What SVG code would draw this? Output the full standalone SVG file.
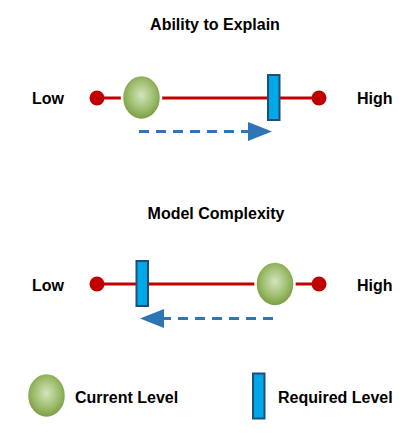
<svg xmlns="http://www.w3.org/2000/svg" width="411" height="434" viewBox="0 0 411 434">
  <defs>
    <radialGradient id="green" cx="50%" cy="45%" r="55%">
      <stop offset="0" stop-color="#d3e4bf"/>
      <stop offset="0.6" stop-color="#9dbd6c"/>
      <stop offset="1" stop-color="#76993f"/>
    </radialGradient>
    <marker id="arrow" viewBox="0 0 24 19" refX="0" refY="9.5" markerWidth="24" markerHeight="19" markerUnits="userSpaceOnUse" orient="auto">
      <path d="M0,0 L24,9.5 L0,19 Z" fill="#2e75b6"/>
    </marker>
    <style>
      .t { font-family: "Liberation Sans", Arial, sans-serif; font-weight: bold; font-size: 16px; fill: #000; }
      .axis { stroke: #c00000; stroke-width: 3; fill: none; }
      .end { fill: #c00000; }
      .cur { fill: url(#green); stroke: #fff; stroke-width: 2.5; }
      .req { fill: #00a8e8; stroke: #1f4e79; stroke-width: 2; }
      .dash { stroke: #2e75b6; stroke-width: 3; stroke-dasharray: 10 7; fill: none; }
    </style>
  </defs>

  <g id="title-explain"><text class="t" x="215" y="30" text-anchor="middle">Ability to Explain</text></g>
  <g id="title-complexity"><text class="t" x="216" y="219" text-anchor="middle">Model Complexity</text></g>

  <g id="row1-labels">
    <text class="t" x="32" y="104">Low</text>
    <text class="t" x="357" y="104">High</text>
  </g>
  <g id="row2-labels">
    <text class="t" x="32" y="291">Low</text>
    <text class="t" x="357" y="291">High</text>
  </g>

  <g id="connectors">
    <line class="axis" x1="97" y1="98" x2="319" y2="98"/>
    <line class="axis" x1="97" y1="284" x2="319" y2="284"/>
    <line class="dash" x1="139" y1="131.5" x2="248" y2="131.5" marker-end="url(#arrow)"/>
    <line class="dash" x1="273" y1="318.5" x2="164" y2="318.5" marker-end="url(#arrow)"/>
  </g>

  <g id="row1-low-end"><circle class="end" cx="97" cy="98" r="7.5"/></g>
  <g id="row1-high-end"><circle class="end" cx="319" cy="98" r="7.5"/></g>
  <g id="row1-current"><ellipse class="cur" cx="141.5" cy="97.5" rx="19.5" ry="22.5"/></g>
  <g id="row1-required"><rect class="req" x="268" y="75" width="11.5" height="45"/></g>

  <g id="row2-low-end"><circle class="end" cx="97" cy="284" r="7.5"/></g>
  <g id="row2-high-end"><circle class="end" cx="319" cy="284" r="7.5"/></g>
  <g id="row2-current"><ellipse class="cur" cx="275" cy="284" rx="19.5" ry="22.5"/></g>
  <g id="row2-required"><rect class="req" x="136.5" y="261" width="11.5" height="45"/></g>

  <g id="legend-current">
    <ellipse class="cur" cx="46.5" cy="395.5" rx="19.5" ry="22.5"/>
    <text class="t" x="75" y="403">Current Level</text>
  </g>
  <g id="legend-required">
    <rect class="req" x="253" y="373.5" width="11.5" height="45"/>
    <text class="t" x="278" y="403">Required Level</text>
  </g>
</svg>
